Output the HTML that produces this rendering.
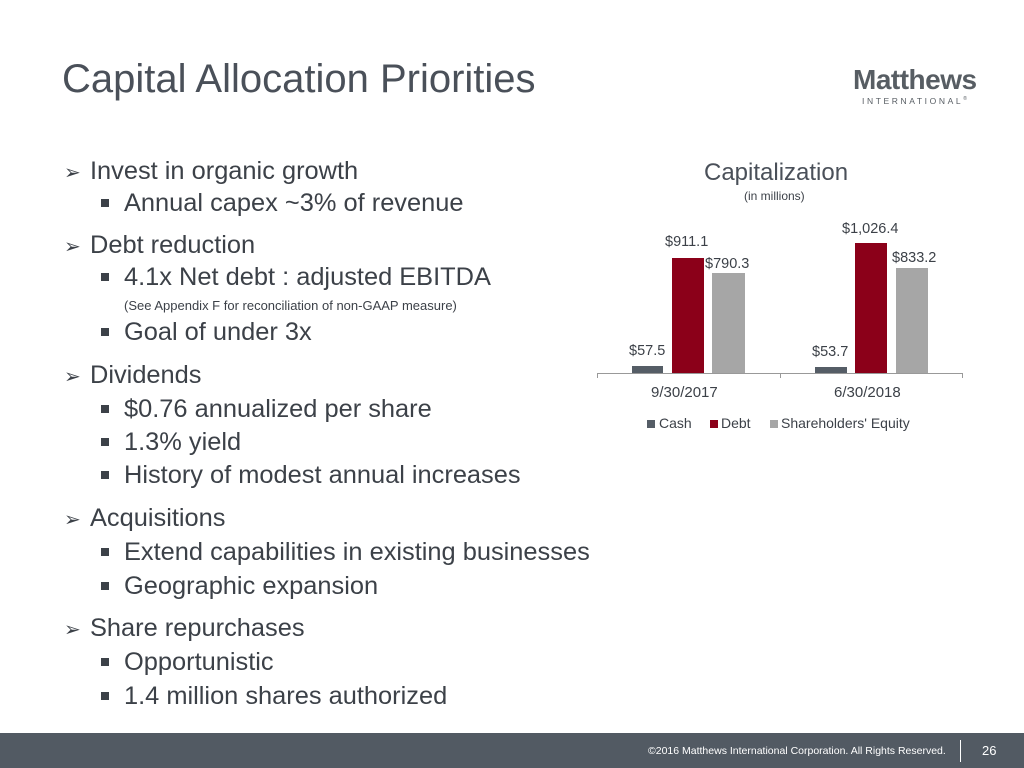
<html><head><style>
body{margin:0;width:1024px;height:768px;position:relative;background:#fff;font-family:"Liberation Sans",sans-serif;overflow:hidden;color:#3c4148}
.t{position:absolute;white-space:nowrap}
.b1{position:absolute;left:72px;font-size:25.4px;color:#3c4148;white-space:nowrap}
.b1:before{content:"➢";position:absolute;left:-26px;font-size:20px;top:3px}
.b2{position:absolute;left:124px;font-size:25.4px;color:#3c4148;white-space:nowrap}
.b2:before{content:"";position:absolute;left:-23px;top:10px;width:8px;height:8px;background:#3c4148}
.r{position:absolute}
.l{position:absolute;font-size:14.5px;color:#3c4148;white-space:nowrap}
</style></head><body>
<div class="t" style="left:62px;top:57px;font-size:40px;color:#4a5059">Capital Allocation Priorities</div>
<div class="t" style="left:853px;top:64px;font-size:28px;font-weight:bold;color:#575d63;letter-spacing:-0.5px">Matthews</div>
<div class="t" style="left:862px;top:96px;font-size:8.5px;color:#575d63;letter-spacing:2.6px">INTERNATIONAL<sup style="font-size:5px">®</sup></div>

<div class="b1" style="left:90px;top:157px">Invest in organic growth</div>
<div class="b2" style="top:189px">Annual capex ~3% of revenue</div>
<div class="b1" style="left:90px;top:231px">Debt reduction</div>
<div class="b2" style="top:263px">4.1x Net debt : adjusted EBITDA</div>
<div class="t" style="left:124px;top:298px;font-size:13px">(See Appendix F for reconciliation of non-GAAP measure)</div>
<div class="b2" style="top:318px">Goal of under 3x</div>
<div class="b1" style="left:90px;top:361px">Dividends</div>
<div class="b2" style="top:395px">$0.76 annualized per share</div>
<div class="b2" style="top:428px">1.3% yield</div>
<div class="b2" style="top:461px">History of modest annual increases</div>
<div class="b1" style="left:90px;top:504px">Acquisitions</div>
<div class="b2" style="top:538px">Extend capabilities in existing businesses</div>
<div class="b2" style="top:572px">Geographic expansion</div>
<div class="b1" style="left:90px;top:614px">Share repurchases</div>
<div class="b2" style="top:648px">Opportunistic</div>
<div class="b2" style="top:682px">1.4 million shares authorized</div>

<div class="t" style="left:704px;top:159px;font-size:24px;color:#4a5059">Capitalization</div>
<div class="t" style="left:744px;top:189px;font-size:12px">(in millions)</div>

<div class="r" style="left:597px;top:373px;width:365px;height:1px;background:#999"></div>
<div class="r" style="left:597px;top:373px;width:1px;height:5px;background:#999"></div>
<div class="r" style="left:780px;top:373px;width:1px;height:5px;background:#999"></div>
<div class="r" style="left:962px;top:373px;width:1px;height:5px;background:#999"></div>
<div class="r" style="left:632px;top:366px;width:31px;height:7px;background:#555d66"></div>
<div class="r" style="left:672px;top:258px;width:32px;height:115px;background:#8b0019"></div>
<div class="r" style="left:712px;top:273px;width:33px;height:100px;background:#a6a6a6"></div>
<div class="r" style="left:815px;top:367px;width:32px;height:6px;background:#555d66"></div>
<div class="r" style="left:855px;top:243px;width:32px;height:130px;background:#8b0019"></div>
<div class="r" style="left:896px;top:268px;width:32px;height:105px;background:#a6a6a6"></div>
<div class="l" style="left:629px;top:343px">$57.5</div>
<div class="l" style="left:665px;top:234px">$911.1</div>
<div class="l" style="left:705px;top:256px">$790.3</div>
<div class="l" style="left:812px;top:344px">$53.7</div>
<div class="l" style="left:842px;top:221px">$1,026.4</div>
<div class="l" style="left:892px;top:250px">$833.2</div>
<div class="l" style="left:651px;top:384px;font-size:15px">9/30/2017</div>
<div class="l" style="left:834px;top:384px;font-size:15px">6/30/2018</div>
<div class="r" style="left:647px;top:420px;width:8px;height:8px;background:#555d66"></div>
<div class="l" style="left:659px;top:415px;font-size:14px">Cash</div>
<div class="r" style="left:710px;top:420px;width:8px;height:8px;background:#8b0019"></div>
<div class="l" style="left:721px;top:415px;font-size:14px">Debt</div>
<div class="r" style="left:770px;top:420px;width:8px;height:8px;background:#a6a6a6"></div>
<div class="l" style="left:781px;top:415px;font-size:14px">Shareholders' Equity</div>

<div class="r" style="left:0;top:733px;width:1024px;height:35px;background:#525a63"></div>
<div class="t" style="left:648px;top:745px;font-size:10.5px;color:#fff">©2016 Matthews International Corporation. All Rights Reserved.</div>
<div class="r" style="left:960px;top:740px;width:1px;height:22px;background:#fff"></div>
<div class="t" style="left:982px;top:743px;font-size:13px;color:#fff">26</div>
</body></html>
